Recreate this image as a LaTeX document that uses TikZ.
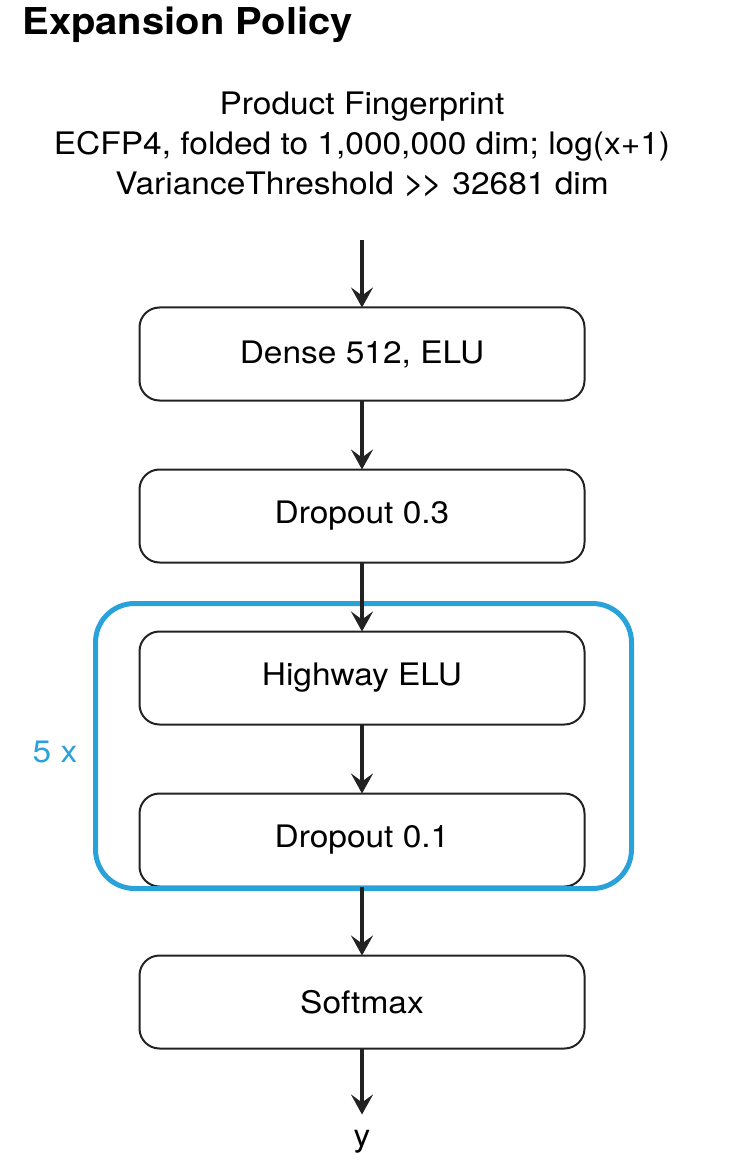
\documentclass[tikz,border=0pt]{standalone}
\usepackage{fontspec}
\setmainfont{TeX Gyre Heros}[FakeStretch=1.08]
\usetikzlibrary{positioning,arrows.meta}
\definecolor{loopblue}{RGB}{41,161,217}
\definecolor{ink}{RGB}{34,34,34}

\begin{document}
\begin{tikzpicture}[
    layer/.style={draw=ink, line width=1pt, rounded corners=10pt, outer sep=0pt,
      minimum width=222.5pt, minimum height=46.5pt, font=\fontsize{15.5}{20}\selectfont},
    flow/.style={draw=ink, line width=2pt, -{Stealth[length=10pt,width=11pt,inset=4pt]}},
    node distance=34.5pt
  ]
      \useasboundingbox (0,0) rectangle (367.5pt,-585pt);

      \node[anchor=base west, inner sep=0pt, font=\fontsize{18.5}{22}\selectfont\bfseries] (title) at (11pt,-17.5pt) {Expansion Policy};
      \node[anchor=north, align=center, inner sep=0pt, font=\fontsize{15.5}{20}\selectfont] (fp) at (181pt,-46pt)
        {Product Fingerprint\\ ECFP4, folded to 1,000,000 dim; log(x+1)\\ VarianceThreshold {\fontsize{17}{20}\selectfont>\kern-1.5pt>} 32681 dim};
      \coordinate (fpout) at (181pt,-120pt);

      \node[layer] (dense) at (181pt,-177pt) {Dense 512, ELU};
      \node[layer, below=of dense] (drop3) {Dropout 0.3};
      \node[layer, below=of drop3] (hw) {Highway ELU};
      \node[layer, below=of hw] (drop1) {Dropout 0.1};
      \node[layer, below=of drop1] (soft) {Softmax};
      \node[inner sep=0pt, below=40.5pt of soft, font=\fontsize{15.5}{20}\selectfont] (y) {y};

      \draw[loopblue, line width=2.5pt, rounded corners=19.5pt]
        ([shift={(-22pt,14pt)}]hw.north west) rectangle ([shift={(23.5pt,-1pt)}]drop1.south east);
      \node[text=loopblue, anchor=base, font=\fontsize{15.5}{20}\selectfont] (reps) at (27.5pt,-381pt) {5 x};

      \draw[flow] (fpout) -- (dense);
      \foreach \a/\b in {dense/drop3, drop3/hw, hw/drop1, drop1/soft} {
        \draw[flow] (\a) -- (\b);
      }
      \draw[flow, shorten >=7.5pt] (soft) -- (y);

    \end{tikzpicture}
\end{document}
